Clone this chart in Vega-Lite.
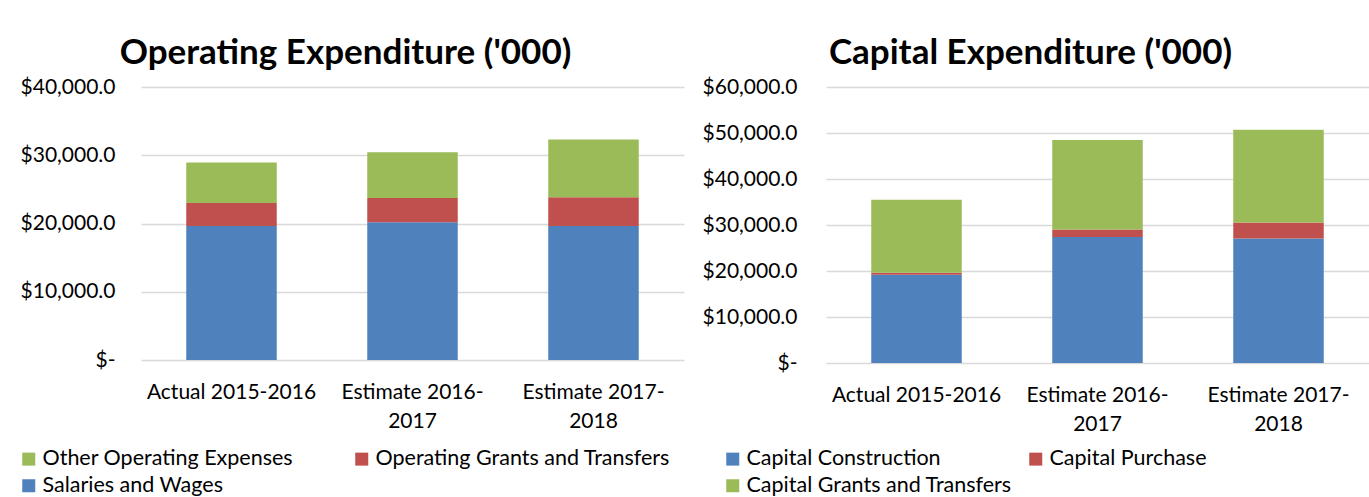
{
  "$schema": "https://vega.github.io/schema/vega-lite/v6.json",
  "background": "white",
  "padding": {"left": 18, "top": 36, "right": 0, "bottom": 0},
  "spacing": 18,
  "config": {
    "view": {"stroke": null},
    "font": "Lato",
    "axis": {"labelFont": "Lato", "labelFontSize": 21, "labelColor": "#000000", "title": null, "domain": false, "ticks": false},
    "title": {"font": "Lato", "fontSize": 35, "fontWeight": "bold", "color": "#000000", "anchor": "middle", "dx": -67, "offset": 5},
    "legend": {"labelFont": "Lato", "labelFontSize": 21.5, "labelColor": "#000000", "symbolType": "square", "symbolSize": 169, "symbolStrokeWidth": 0, "symbolOpacity": 1, "columns": 2, "direction": "horizontal", "gridAlign": "all", "columnPadding": 13, "rowPadding": 4, "labelOffset": 3, "labelLimit": 0, "title": null, "orient": "none"}
  },
  "datasets": {
    "operating": [
      {"period": "Actual 2015-2016", "category": "Salaries and Wages", "value": 19650},
      {"period": "Actual 2015-2016", "category": "Operating Grants and Transfers", "value": 3350},
      {"period": "Actual 2015-2016", "category": "Other Operating Expenses", "value": 5950},
      {"period": "Estimate 2016-2017", "category": "Salaries and Wages", "value": 20190},
      {"period": "Estimate 2016-2017", "category": "Operating Grants and Transfers", "value": 3550},
      {"period": "Estimate 2016-2017", "category": "Other Operating Expenses", "value": 6710},
      {"period": "Estimate 2017-2018", "category": "Salaries and Wages", "value": 19650},
      {"period": "Estimate 2017-2018", "category": "Operating Grants and Transfers", "value": 4190},
      {"period": "Estimate 2017-2018", "category": "Other Operating Expenses", "value": 8470}
    ],
    "capital": [
      {"period": "Actual 2015-2016", "category": "Capital Construction", "value": 19200},
      {"period": "Actual 2015-2016", "category": "Capital Purchase", "value": 430},
      {"period": "Actual 2015-2016", "category": "Capital Grants and Transfers", "value": 15870},
      {"period": "Estimate 2016-2017", "category": "Capital Construction", "value": 27390},
      {"period": "Estimate 2016-2017", "category": "Capital Purchase", "value": 1650},
      {"period": "Estimate 2016-2017", "category": "Capital Grants and Transfers", "value": 19440},
      {"period": "Estimate 2017-2018", "category": "Capital Construction", "value": 27090},
      {"period": "Estimate 2017-2018", "category": "Capital Purchase", "value": 3480},
      {"period": "Estimate 2017-2018", "category": "Capital Grants and Transfers", "value": 20150}
    ]
  },
  "resolve": {"scale": {"color": "independent", "y": "independent"}, "legend": {"color": "independent"}},
  "hconcat": [
    {
      "data": {"name": "operating"},
      "transform": [{"calculate": "indexof(['Salaries and Wages', 'Operating Grants and Transfers', 'Other Operating Expenses'], datum.category)", "as": "stackOrder"}],
      "title": {"text": "Operating Expenditure ('000)"},
      "width": 543,
      "height": 273,
      "mark": {"type": "bar"},
      "encoding": {
        "x": {"field": "period", "type": "nominal", "sort": ["Actual 2015-2016", "Estimate 2016-2017", "Estimate 2017-2018"],
          "scale": {"paddingInner": 0.5, "paddingOuter": 0.25},
          "axis": {"labelAngle": 0, "labelPadding": 21, "labelLineHeight": 29, "labelLimit": 0, "labelBaseline": "top",
            "labelExpr": "indexof(datum.label, 'Estimate') == 0 ? [slice(datum.label, 0, 14), slice(datum.label, 14)] : datum.label"}},
        "y": {"field": "value", "type": "quantitative", "stack": "zero",
          "scale": {"domain": [0, 40000], "nice": false},
          "axis": {"values": [0, 10000, 20000, 30000, 40000], "grid": true, "gridColor": "#d9d9d9", "gridWidth": 1.5, "labelPadding": 26,
            "labelExpr": "datum.value == 0 ? '$-\u00a0\u00a0\u00a0' : format(datum.value, '$,.1f')"}},
        "order": {"field": "stackOrder", "type": "quantitative", "sort": "ascending"},
        "color": {"field": "category", "type": "nominal",
          "sort": ["Salaries and Wages", "Operating Grants and Transfers", "Other Operating Expenses"],
          "scale": {"range": ["#4f81bd", "#c0504d", "#9bbb59"]},
          "legend": {"values": ["Other Operating Expenses", "Operating Grants and Transfers", "Salaries and Wages"], "legendX": -123, "legendY": 361}}
      }
    },
    {
      "data": {"name": "capital"},
      "transform": [{"calculate": "indexof(['Capital Construction', 'Capital Purchase', 'Capital Grants and Transfers'], datum.category)", "as": "stackOrder"}],
      "title": {"text": "Capital Expenditure ('000)"},
      "width": 543,
      "height": 276,
      "mark": {"type": "bar"},
      "encoding": {
        "x": {"field": "period", "type": "nominal", "sort": ["Actual 2015-2016", "Estimate 2016-2017", "Estimate 2017-2018"],
          "scale": {"paddingInner": 0.5, "paddingOuter": 0.25},
          "axis": {"labelAngle": 0, "labelPadding": 21, "labelLineHeight": 29, "labelLimit": 0, "labelBaseline": "top",
            "labelExpr": "indexof(datum.label, 'Estimate') == 0 ? [slice(datum.label, 0, 14), slice(datum.label, 14)] : datum.label"}},
        "y": {"field": "value", "type": "quantitative", "stack": "zero",
          "scale": {"domain": [0, 60000], "nice": false},
          "axis": {"values": [0, 10000, 20000, 30000, 40000, 50000, 60000], "grid": true, "gridColor": "#d9d9d9", "gridWidth": 1.5, "labelPadding": 29,
            "labelExpr": "datum.value == 0 ? '$-\u00a0\u00a0\u00a0' : format(datum.value, '$,.1f')"}},
        "order": {"field": "stackOrder", "type": "quantitative", "sort": "ascending"},
        "color": {"field": "category", "type": "nominal",
          "sort": ["Capital Construction", "Capital Purchase", "Capital Grants and Transfers"],
          "scale": {"range": ["#4f81bd", "#c0504d", "#9bbb59"]},
          "legend": {"values": ["Capital Construction", "Capital Purchase", "Capital Grants and Transfers"], "legendX": -104, "legendY": 361}}
      }
    }
  ]
}
